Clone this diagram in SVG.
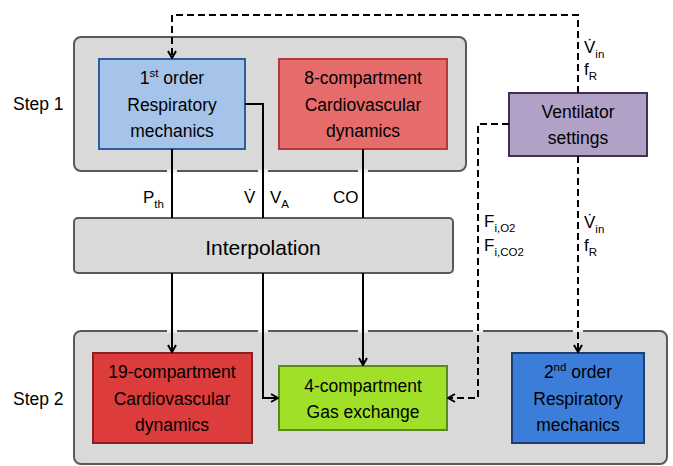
<svg xmlns="http://www.w3.org/2000/svg" width="673" height="466" viewBox="0 0 673 466">
<style>
text,tspan{font-family:"Liberation Sans",Arial,sans-serif;fill:#000}
.box text,.t{font-size:17.5px;text-anchor:middle}
.step{font-size:17.5px}
.lbl{font-size:17px}
.sub{font-size:11.5px}
.cont{fill:#d9d9d9;stroke:#595959;stroke-width:2}
.ln{fill:none;stroke:#000;stroke-width:2}
.dash{fill:none;stroke:#000;stroke-width:2;stroke-dasharray:7 4}
.gap{stroke:#f0f0f0;stroke-width:3;fill:none}
</style>
<defs>
<marker id="ah" viewBox="0 0 10 10" refX="9" refY="5" markerWidth="10" markerHeight="10" markerUnits="userSpaceOnUse" orient="auto">
<path d="M2,1 L9,5 L2,9" fill="none" stroke="#000" stroke-width="2"/>
</marker>
</defs>
<rect fill="#fff" width="673" height="466"/>
<g id="step1">
<rect class="cont" x="74" y="37" width="392" height="134" rx="7"/>
<text class="step" x="13" y="110">Step 1</text>
</g>
<g id="step2">
<rect class="cont" x="74" y="331" width="593" height="133" rx="7"/>
<text class="step" x="13" y="405">Step 2</text>
</g>
<g id="gaps">
<line class="gap" x1="167" y1="171" x2="177" y2="171"/>
<line class="gap" x1="258" y1="171" x2="268" y2="171"/>
<line class="gap" x1="358" y1="171" x2="368" y2="171"/>
<line class="gap" x1="167" y1="331" x2="177" y2="331"/>
<line class="gap" x1="258" y1="331" x2="268" y2="331"/>
<line class="gap" x1="358" y1="331" x2="368" y2="331"/>
<line class="gap" x1="473" y1="331" x2="483" y2="331"/>
<line class="gap" x1="573" y1="331" x2="583" y2="331"/>
</g>
<g id="resp1" class="box">
<rect x="99" y="59" width="146" height="90" fill="#a6c4ea" stroke="#2e5c9a" stroke-width="2"/>
<text x="172" y="84">1<tspan class="sub" dy="-7">st</tspan><tspan dy="7"> order</tspan></text>
<text x="172" y="111">Respiratory</text>
<text x="172" y="137">mechanics</text>
</g>
<g id="cv8" class="box">
<rect x="279" y="59" width="168" height="90" fill="#e66b6b" stroke="#b03a3a" stroke-width="2"/>
<text x="363" y="84">8-compartment</text>
<text x="363" y="111">Cardiovascular</text>
<text x="363" y="137">dynamics</text>
</g>
<g id="ventilator" class="box">
<rect x="509" y="93" width="138" height="63" fill="#b2a1c7" stroke="#403152" stroke-width="2"/>
<text x="578" y="118">Ventilator</text>
<text x="578" y="144">settings</text>
</g>
<g id="interpolation">
<rect x="74" y="218" width="379" height="55" rx="4" fill="#d9d9d9" stroke="#595959" stroke-width="2"/>
<text x="263" y="255" style="font-size:21px;text-anchor:middle">Interpolation</text>
</g>
<g id="cv19" class="box">
<rect x="93" y="353" width="159" height="90" fill="#dc3c3c" stroke="#8c2020" stroke-width="2"/>
<text x="172" y="378">19-compartment</text>
<text x="172" y="405">Cardiovascular</text>
<text x="172" y="431">dynamics</text>
</g>
<g id="gas" class="box">
<rect x="279" y="366" width="168" height="64" fill="#a0e028" stroke="#5a8a1e" stroke-width="2"/>
<text x="363" y="392">4-compartment</text>
<text x="363" y="418">Gas exchange</text>
</g>
<g id="resp2" class="box">
<rect x="512" y="353" width="132" height="90" fill="#3b7dd8" stroke="#1f3d6e" stroke-width="2"/>
<text x="578" y="378">2<tspan class="sub" dy="-7">nd</tspan><tspan dy="7"> order</tspan></text>
<text x="578" y="405">Respiratory</text>
<text x="578" y="431">mechanics</text>
</g>
<g id="connectors">
<line class="ln" x1="172" y1="149" x2="172" y2="218"/>
<polyline class="ln" points="245,104 263,104 263,218"/>
<line class="ln" x1="363" y1="149" x2="363" y2="218"/>
<line class="ln" x1="172" y1="273" x2="172" y2="352" marker-end="url(#ah)"/>
<polyline class="ln" points="263,273 263,398 278,398" marker-end="url(#ah)"/>
<line class="ln" x1="363" y1="273" x2="363" y2="365" marker-end="url(#ah)"/>
<polyline class="dash" points="578,93 578,15 172,15 172,58" marker-end="url(#ah)"/>
<polyline class="dash" points="509,124 478,124 478,398 448,398" marker-end="url(#ah)"/>
<line class="dash" x1="578" y1="156" x2="578" y2="352" marker-end="url(#ah)"/>
<text class="lbl" x="143" y="203">P<tspan class="sub" dy="5">th</tspan></text>
<text class="lbl" x="244" y="203">V&#x307;</text>
<text class="lbl" x="270" y="203">V<tspan class="sub" dy="5">A</tspan></text>
<text class="lbl" x="333" y="203">CO</text>
<text class="lbl" x="584" y="53">V&#x307;<tspan class="sub" dy="5">in</tspan></text>
<text class="lbl" x="584" y="75">f<tspan class="sub" dy="5">R</tspan></text>
<text class="lbl" x="584" y="228">V&#x307;<tspan class="sub" dy="5">in</tspan></text>
<text class="lbl" x="584" y="251">f<tspan class="sub" dy="5">R</tspan></text>
<text class="lbl" x="484" y="227">F<tspan class="sub" dy="5">i,O2</tspan></text>
<text class="lbl" x="484" y="251">F<tspan class="sub" dy="5">i,CO2</tspan></text>
</g>
</svg>
